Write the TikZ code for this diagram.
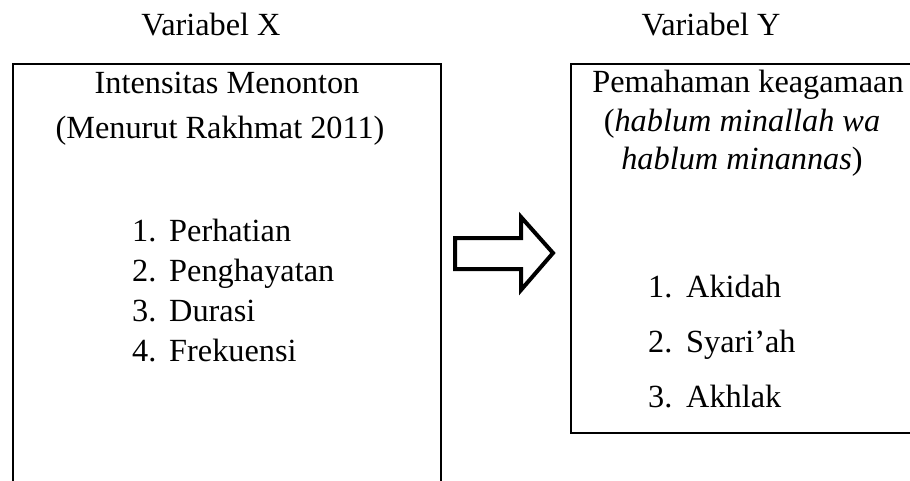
\documentclass[tikz,border=0pt]{standalone}
\usepackage{fontspec}
\setmainfont{Liberation Serif}
\begin{document}
\begin{tikzpicture}[x=1pt,y=-1pt,
  txt/.style={inner sep=0pt,anchor=base,font=\fontsize{32.3}{38}\selectfont},
  ltxt/.style={txt,anchor=base west},
  boxline/.style={line width=2pt},
  arrowline/.style={line width=4pt,line join=miter}]
\useasboundingbox (0,0) rectangle (910,481);
% titles
\node[txt] (vx) at (211,36) {Variabel X};
\node[txt] (vy) at (711,36) {Variabel Y};
% left box (open at bottom)
\draw[boxline] (13,490) -- (13,64) -- (441,64) -- (441,490);
\node[txt] (lh1) at (227,94) {Intensitas Menonton};
\node[txt] (lh2) at (220,139) {(Menurut Rakhmat 2011)};
\node[ltxt] (ln1) at (132,241) {1.};
\node[ltxt] (li1) at (169,241) {Perhatian};
\node[ltxt] (ln2) at (132,281) {2.};
\node[ltxt] (li2) at (169,281) {Penghayatan};
\node[ltxt] (ln3) at (132,321) {3.};
\node[ltxt] (li3) at (169,321) {Durasi};
\node[ltxt] (ln4) at (132,361) {4.};
\node[ltxt] (li4) at (169,361) {Frekuensi};
% right box (open at right)
\draw[boxline] (920,64) -- (571,64) -- (571,433) -- (920,433);
\node[txt] (rh1) at (748,93) {Pemahaman keagamaan};
\node[txt] (rh2) at (742,132) {(\textit{hablum minallah wa}};
\node[txt] (rh3) at (742,170) {\textit{hablum minannas})};
\node[ltxt] (rn1) at (648,297) {1.};
\node[ltxt] (ri1) at (686,297) {Akidah};
\node[ltxt] (rn2) at (648,352) {2.};
\node[ltxt] (ri2) at (686,352) {Syari’ah};
\node[ltxt] (rn3) at (648,407) {3.};
\node[ltxt] (ri3) at (686,407) {Akhlak};
% block arrow
\draw[arrowline] (455,238) -- (521,238) -- (521,217) -- (553,253) -- (521,290) -- (521,269) -- (455,269) -- cycle;
\end{tikzpicture}
\end{document}
